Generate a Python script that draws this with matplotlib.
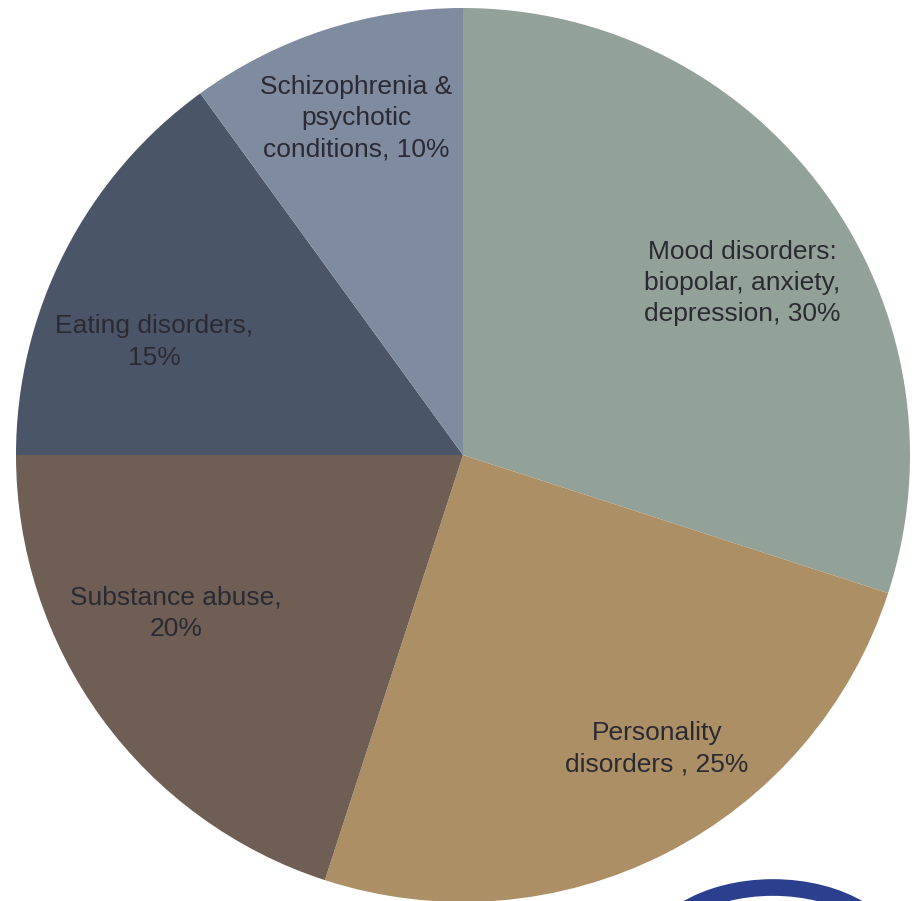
import matplotlib
matplotlib.use("Agg")
import matplotlib.pyplot as plt
from matplotlib.patches import Ellipse

categories = ["Mood disorders:\nbiopolar, anxiety,\ndepression, 30%",
              "Personality\ndisorders , 25%",
              "Substance abuse,\n20%",
              "Eating disorders,\n15%",
              "Schizophrenia &\npsychotic\nconditions, 10%"]
values = [30, 25, 20, 15, 10]
colors = ["#93A298", "#AD8F66", "#6E5E53", "#4A5667", "#7F8C9F"]
label_pos = [(742, 283), (657, 749), (176, 613), (154, 342), (356, 118)]

W, H = 917, 901
fig = plt.figure(figsize=(W / 100, H / 100), dpi=100)
ax = fig.add_axes([0, 0, 1, 1])
ax.pie(values, colors=colors, startangle=90, counterclock=False,
       center=(463, H - 455), radius=447,
       wedgeprops=dict(linewidth=0))
ax.set_xlim(0, W)
ax.set_ylim(0, H)
ax.set_aspect("equal")
ax.axis("off")

for lab, (x, y) in zip(categories, label_pos):
    ax.text(x, H - y, lab, ha="center", va="center", multialignment="center",
            fontsize=19, color="#2A2A33", family=["Liberation Sans", "DejaVu Sans"],
            linespacing=1.38)

# partial logo ring at the bottom edge
ax.add_patch(Ellipse((773, H - 965), 250, 155, facecolor="white",
                     edgecolor="#2B3F8F", linewidth=12, zorder=5))

fig.savefig("out.png", dpi=100)
